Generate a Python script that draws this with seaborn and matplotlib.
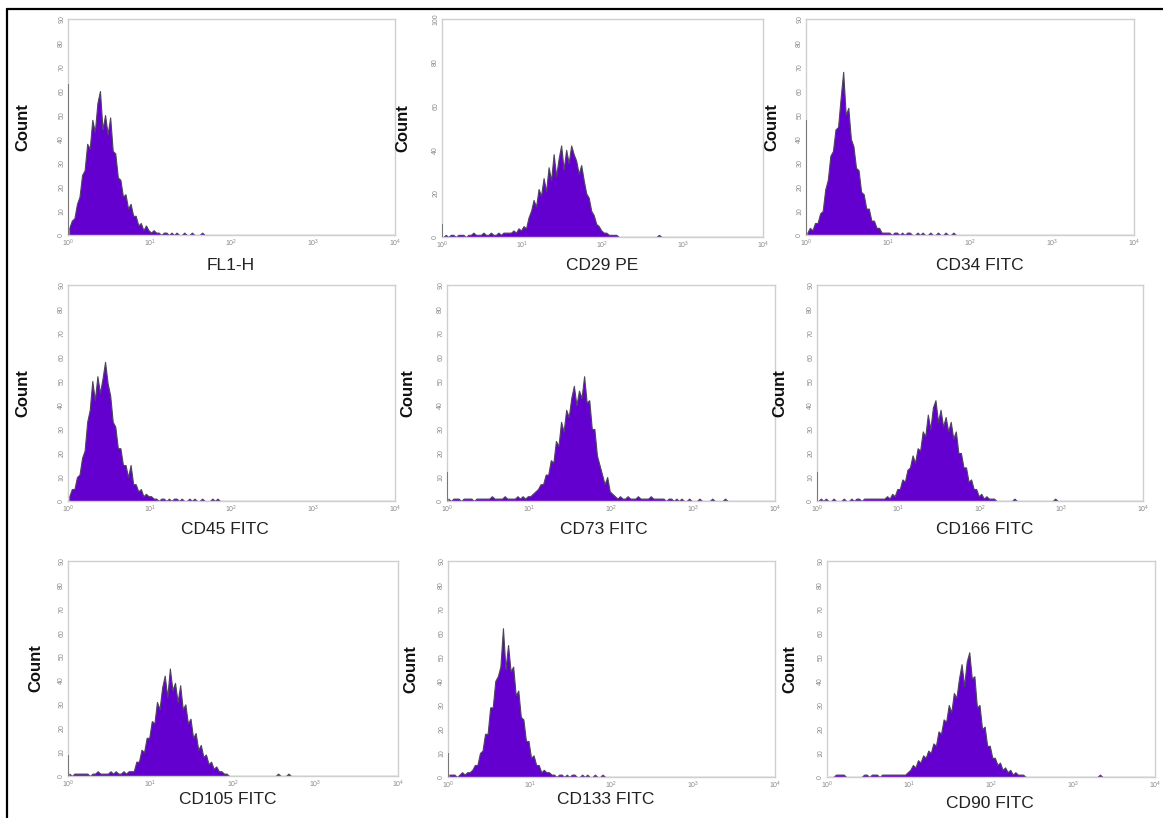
import numpy as np
import matplotlib
matplotlib.use("Agg")
import matplotlib.pyplot as plt
from matplotlib.lines import Line2D
from matplotlib.ticker import FixedLocator, FixedFormatter, NullLocator
import seaborn as sns

# Flow cytometry histograms: 128 log-spaced channels over 10^0 .. 10^4
# (32 channels per decade), counts listed from channel 0 upwards.
markers = ["FL1-H", "CD29 PE", "CD34 FITC",
           "CD45 FITC", "CD73 FITC", "CD166 FITC",
           "CD105 FITC", "CD133 FITC", "CD90 FITC"]

fl1h_counts = [3, 6, 7, 13, 16, 25, 27, 38, 36, 48, 43, 55, 60, 44, 50, 42,
               49, 35, 34, 24, 23, 16, 17, 11, 13, 8, 8, 4, 5, 2, 4, 2,
               1, 2, 1, 1, 0, 1, 1, 0, 1, 0, 1, 0, 0, 1, 0, 0, 1, 0, 0, 0, 1]

cd29_counts = [0, 1, 0, 1, 1, 0, 1, 1, 1, 0, 1, 1, 2, 1, 1, 1, 2, 1, 1, 2,
               1, 1, 2, 1, 2, 2, 2, 2,
               3, 2, 4, 3, 5, 4, 9, 12, 17, 14, 22, 19, 27, 21, 32, 26, 38, 28,
               36, 42, 31, 40, 34, 42, 38, 35, 29, 33, 26, 20, 18, 12, 10, 6,
               5, 3, 2, 2, 1, 1, 1, 1, 0, 0, 0, 0, 0, 0, 0, 0, 0, 0, 0, 0, 0,
               0, 0, 0, 1]

cd34_counts = [1, 3, 2, 5, 5, 9, 10, 19, 23, 33, 35, 44, 45, 57, 68, 50,
               53, 40, 37, 28, 27, 18, 17, 11, 11, 6, 6, 3, 3, 1,
               1, 1, 1, 0, 1, 1, 0, 1, 0, 1, 1, 0, 0, 1, 0, 1, 0, 0, 1, 0,
               0, 1, 0, 0, 1, 0, 0, 1]

cd45_counts = [2, 5, 5, 10, 11, 18, 21, 33, 38, 50, 42, 52, 45, 51, 58, 49,
               44, 33, 31, 22, 22, 15, 15, 10, 15, 7, 7, 4, 5, 2, 3, 2, 2,
               1, 1, 0, 1, 1, 0, 1, 0, 1, 1, 0, 1, 0, 0, 1, 0, 1, 0, 0, 1,
               0, 0, 0, 1, 0, 1]

cd73_counts = [1, 0, 1, 1, 1, 0, 1, 1, 1, 1, 0, 1, 1, 1, 1, 1, 1, 2, 1, 1,
               1, 1, 2, 1, 1, 1, 1, 2, 1, 2, 1, 2,
               2, 3, 4, 5, 7, 7, 11, 11, 17, 16, 25, 23, 33, 29, 38, 35, 43,
               48, 40, 46, 43, 52, 41, 42, 30, 30, 19, 15, 11, 7, 10, 4, 3,
               2, 1, 2, 1, 1, 2, 1, 1, 1, 2, 1, 1, 1, 1, 2, 1, 1, 1, 1, 1,
               0, 1, 1, 0, 1, 0, 1, 0, 0, 1, 0, 0, 0, 1, 0, 0, 0, 0, 1, 0,
               0, 0, 0, 1]

cd166_counts = [0, 1, 0, 1, 0, 0, 1, 0, 0, 0, 1, 0, 0, 1, 0, 1, 1, 0, 1, 1,
                1, 1, 1, 1, 1, 1, 1,
                2, 1, 3, 2, 5, 5, 9, 8, 13, 14, 19, 16, 22, 21, 29, 27, 36, 30,
                39, 42, 33, 38, 31, 35, 29, 33, 26, 29, 20, 20, 14, 14, 8, 9,
                5, 5, 2, 3, 1, 2,
                1, 1, 1, 0, 0, 0, 0, 0, 0, 0, 1, 0, 0, 0, 0, 0, 0, 0, 0, 0, 0,
                0, 0, 0, 0, 0, 1]

cd105_counts = [1, 0, 1, 1, 1, 1, 1, 1, 0, 1, 1, 2, 1, 1, 1, 1, 2, 1, 2, 1,
                1, 2, 1, 2,
                2, 2, 6, 6, 11, 10, 16, 16, 23, 22, 31, 28, 37, 42, 33, 45, 36,
                39, 31, 38, 28, 30, 22, 24, 16, 18, 11, 13, 8, 9, 5, 6, 3, 4,
                2, 2, 1, 1,
                0, 0, 0, 0, 0, 0, 0, 0, 0, 0, 0, 0, 0, 0, 0, 0, 0, 0, 0, 1, 0,
                0, 0, 1]

cd133_counts = [1, 1, 1, 0, 1, 2, 1, 2, 2,
                3, 5, 5, 10, 11, 18, 18, 29, 29, 40, 42, 46, 62, 45, 55, 44,
                46, 34, 36, 25, 24, 15, 15, 8, 9, 5, 5, 2, 3, 2, 2, 1, 1,
                0, 1, 1, 0, 1, 0, 1, 1, 0, 0, 1, 0, 1, 0, 0, 1, 0, 0, 1]

cd90_counts = [0, 0, 0, 1, 1, 1, 1, 0, 0, 0, 0, 0, 0, 0, 1, 1, 0, 1, 1, 1,
               0, 1, 1, 1, 1, 1, 1, 1, 1, 1,
               1, 2, 3, 5, 4, 7, 6, 9, 8, 11, 10, 14, 13, 19, 18, 24, 23, 30,
               27, 35, 33, 41, 47, 38, 48, 52, 41, 42, 29, 30, 20, 21, 13, 13,
               8, 8, 5, 6, 3, 4, 2, 3, 1, 2, 1, 1, 1,
               0, 0, 0, 0, 0, 0, 0, 0, 0, 0, 0, 0, 0, 0, 0, 0, 0, 0, 0, 0, 0,
               0, 0, 0, 0, 0, 0, 0, 0, 1]

# events piled up in the very first channel
first_channel = [63, 6, 48, 0, 12, 12, 9, 10, 0]

# y-axis range of each histogram
y_max = [90, 100, 90, 90, 90, 90, 90, 90, 90]
y_step = [10, 20, 10, 10, 10, 10, 10, 10, 10]

decade_ticks = [1, 10, 100, 1000, 10000]
decade_labels = ["$10^{0}$", "$10^{1}$", "$10^{2}$", "$10^{3}$", "$10^{4}$"]

all_counts = [fl1h_counts, cd29_counts, cd34_counts,
              cd45_counts, cd73_counts, cd166_counts,
              cd105_counts, cd133_counts, cd90_counts]

CHANNELS_PER_DECADE = 32
N_CHANNELS = 128

sns.set_theme(style="white")
plt.rcParams["font.family"] = ["Liberation Sans", "DejaVu Sans"]
plt.rcParams["mathtext.fontset"] = "custom"
plt.rcParams["mathtext.rm"] = "Liberation Sans"
plt.rcParams["mathtext.it"] = "Liberation Sans"
plt.rcParams["mathtext.default"] = "regular"

W, H = 1163, 818
fig = plt.figure(figsize=(W / 100, H / 100), dpi=100)
fig.patch.set_facecolor("white")

# panel frames in pixels: left, right, top, bottom
frames = [(68, 395, 19, 235), (442, 763, 19, 237), (806, 1134, 19, 235),
          (68, 395, 285, 501), (447, 775, 285, 501), (817, 1143, 285, 501),
          (68, 398, 561, 776), (448, 775, 561, 777), (827, 1155, 561, 777)]
# "Count" offset to the left of each frame, x-label centre (px) and drop below frame
count_offset = [38, 32, 27, 38, 32, 30, 25, 30, 30]
xlabel_center = [231, 602, 980, 225, 604, 985, 228, 606, 990]
xlabel_drop = [30, 28, 31, 28, 28, 28, 24, 23, 26]

fill_color = "#6300cf"
edge_color = "#4f4460"
spine_color = "#cfcfcf"
tick_color = "#8a8a8a"

for i, (name, counts) in enumerate(zip(markers, all_counts)):
    l, r, t, b = frames[i]
    ax = fig.add_axes([l / W, 1 - b / H, (r - l) / W, (b - t) / H])

    channels = np.arange(len(counts))
    intensity = 10 ** ((channels + 0.5) / CHANNELS_PER_DECADE)
    sns.histplot(x=intensity, weights=counts, bins=N_CHANNELS, binrange=(0, 4),
                 log_scale=True, element="poly", fill=True, color=fill_color,
                 alpha=1, edgecolor=edge_color, linewidth=0.8, ax=ax)
    if first_channel[i] > 0:
        ax.vlines(1, 0, first_channel[i], color="#6f6f6f", linewidth=1.3,
                  zorder=3)

    ax.set_xlim(1, 10000)
    ax.set_ylim(0, y_max[i])
    ax.xaxis.set_major_locator(FixedLocator(decade_ticks))
    ax.xaxis.set_major_formatter(FixedFormatter(decade_labels))
    ax.xaxis.set_minor_locator(NullLocator())
    yt = list(range(0, y_max[i] + 1, y_step[i]))
    ax.set_yticks(yt)
    ax.set_yticklabels([str(v) for v in yt], rotation=90, va="center")
    ax.tick_params(axis="both", length=0, labelsize=5, labelcolor=tick_color,
                   pad=2)
    for s in ax.spines.values():
        s.set_visible(True)
        s.set_color(spine_color)
        s.set_linewidth(1.0)

    ax.set_ylabel("Count", fontsize=12, fontweight="bold", color="#111111")
    ax.yaxis.set_label_coords(-count_offset[i] / (r - l), 0.5)
    ax.set_xlabel(name, fontsize=12.5, color="#222222")
    ax.xaxis.set_label_coords((xlabel_center[i] - l) / (r - l),
                              -xlabel_drop[i] / (b - t))
    ax.xaxis.label.set_verticalalignment("center")

# outer frame lines along the top and left edge
fig.add_artist(Line2D([7 / W, 7 / W], [0, 1 - 9 / H], color="black",
                      linewidth=1.6, transform=fig.transFigure))
fig.add_artist(Line2D([7 / W, 1], [1 - 9 / H, 1 - 9 / H], color="black",
                      linewidth=1.6, transform=fig.transFigure))

fig.savefig("out.png", dpi=100, facecolor="white")
